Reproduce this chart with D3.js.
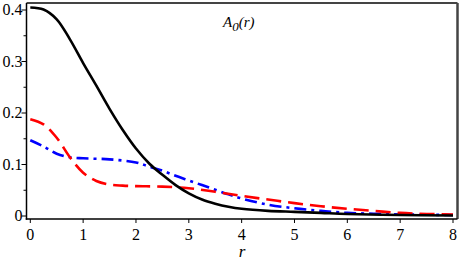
<!DOCTYPE html>
<html>
<head>
<meta charset="utf-8">
<script src="https://cdn.jsdelivr.net/npm/d3@7"></script>
<style>
  html, body { margin: 0; padding: 0; background: #fff; }
  svg { display: block; }
</style>
</head>
<body>
<svg id="chart" width="463" height="261"></svg>
<script>
// ─── Datos ────────────────────────────────────────────────────────────────────

const xTicks = [0, 1, 2, 3, 4, 5, 6, 7, 8];
const yTicks = [0, 0.1, 0.2, 0.3, 0.4];
const yMinor = [0.05, 0.15, 0.25, 0.35];

// curva negra continua
const blackR = [0, 0.25, 0.5, 0.75, 1, 1.25, 1.5, 1.75, 2, 2.25, 2.5, 2.75, 3, 3.25, 3.5, 3.75, 4, 4.5, 5, 5.5, 6, 7, 8];
const blackA = [0.405, 0.401, 0.382, 0.343, 0.297, 0.253, 0.208, 0.167, 0.131, 0.102, 0.080, 0.060, 0.044, 0.032, 0.024, 0.018, 0.014, 0.010, 0.008, 0.006, 0.004, 0.002, 0.001];

// curva roja discontinua
const redR = [0, 0.25, 0.5, 0.75, 1, 1.25, 1.5, 1.75, 2, 2.5, 3, 3.5, 4, 4.5, 5, 5.5, 6, 6.5, 7, 7.5, 8];
const redA = [0.188, 0.178, 0.152, 0.114, 0.084, 0.068, 0.061, 0.059, 0.058, 0.057, 0.054, 0.047, 0.039, 0.032, 0.025, 0.019, 0.014, 0.010, 0.006, 0.004, 0.003];

// curva azul punto-raya
const blueR = [0, 0.25, 0.5, 0.75, 1, 1.5, 2, 2.25, 2.5, 2.75, 3, 3.25, 3.5, 3.75, 4, 4.5, 5, 5.5, 6, 6.5, 7, 8];
const blueA = [0.147, 0.135, 0.121, 0.114, 0.112, 0.110, 0.104, 0.096, 0.088, 0.078, 0.069, 0.060, 0.051, 0.042, 0.034, 0.022, 0.015, 0.010, 0.006, 0.0045, 0.003, 0.002];

// ─── Escalas ──────────────────────────────────────────────────────────────────

const FONT = "'Liberation Serif', 'Times New Roman', Times, 'DejaVu Serif', serif";
const svg = d3.select('#chart');
const x = d3.scaleLinear().domain([0, 8]).range([30.3, 453]);
const y = d3.scaleLinear().domain([0, 0.4]).range([216, 10]);

const L = 26.5, R = 457.5, T = 3, B = 219;

// Marco: arriba/derecha gris, ejes izquierda/abajo negros
svg.append('line').attr('x1', L).attr('x2', R).attr('y1', T).attr('y2', T)
  .attr('stroke', '#444').attr('stroke-width', 2);
svg.append('line').attr('x1', R).attr('x2', R).attr('y1', T).attr('y2', B)
  .attr('stroke', '#444').attr('stroke-width', 2.5);

// ─── Curvas ───────────────────────────────────────────────────────────────────

const line = d3.line()
  .x(d => x(d[0])).y(d => y(d[1]))
  .curve(d3.curveCatmullRom.alpha(0.5));

const series = [
  { r: blackR, a: blackA, color: '#000',    dash: null },
  { r: redR,   a: redA,   color: '#ff0000', dash: '15,7' },
  { r: blueR,  a: blueA,  color: '#0000ff', dash: '12,5,3,5' },
];

const plot = svg.append('g');
series.slice().reverse().forEach(s => {
  plot.append('path')
    .datum(d3.zip(s.r, s.a))
    .attr('fill', 'none')
    .attr('stroke', s.color)
    .attr('stroke-width', 2.6)
    .attr('stroke-dasharray', s.dash)
    .attr('d', line);
});

// ─── Ejes ─────────────────────────────────────────────────────────────────────

svg.append('line').attr('x1', L).attr('x2', L).attr('y1', T).attr('y2', B + 0.75)
  .attr('stroke', '#000').attr('stroke-width', 1.5);
svg.append('line').attr('x1', L - 0.75).attr('x2', R).attr('y1', B).attr('y2', B)
  .attr('stroke', '#000').attr('stroke-width', 1.5);

// ticks x
svg.selectAll('.xt').data(xTicks).enter().append('line')
  .attr('x1', d => x(d)).attr('x2', d => x(d))
  .attr('y1', B).attr('y2', B + 4)
  .attr('stroke', '#000').attr('stroke-width', 1);
svg.selectAll('.xl').data(xTicks).enter().append('text')
  .attr('x', d => x(d)).attr('y', 240)
  .attr('text-anchor', 'middle')
  .attr('font-family', FONT)
  .attr('font-size', 16)
  .text(d => d);

// ticks y
svg.selectAll('.yt').data(yTicks).enter().append('line')
  .attr('x1', L - 5).attr('x2', L)
  .attr('y1', d => y(d)).attr('y2', d => y(d))
  .attr('stroke', '#000').attr('stroke-width', 1);
svg.selectAll('.ym').data(yMinor).enter().append('line')
  .attr('x1', L - 3).attr('x2', L)
  .attr('y1', d => y(d)).attr('y2', d => y(d))
  .attr('stroke', '#000').attr('stroke-width', 1);
svg.selectAll('.yl').data(yTicks).enter().append('text')
  .attr('x', 22.5).attr('y', d => y(d) + 5)
  .attr('text-anchor', 'end')
  .attr('font-family', FONT)
  .attr('font-size', 16)
  .text(d => d === 0 ? '0' : d3.format('.1f')(d));

// ─── Títulos ──────────────────────────────────────────────────────────────────

const title = svg.append('text')
  .attr('x', 223).attr('y', 27)
  .attr('font-family', FONT)
  .attr('font-size', 15)
  .attr('font-style', 'italic');
title.append('tspan').text('A');
title.append('tspan').attr('dy', 4).attr('font-size', 13).text('0');
title.append('tspan').attr('dy', -4).text('(r)');

svg.append('text')
  .attr('x', 242).attr('y', 257)
  .attr('text-anchor', 'middle')
  .attr('font-family', FONT)
  .attr('font-size', 17)
  .attr('font-style', 'italic')
  .text('r');
</script>
</body>
</html>
